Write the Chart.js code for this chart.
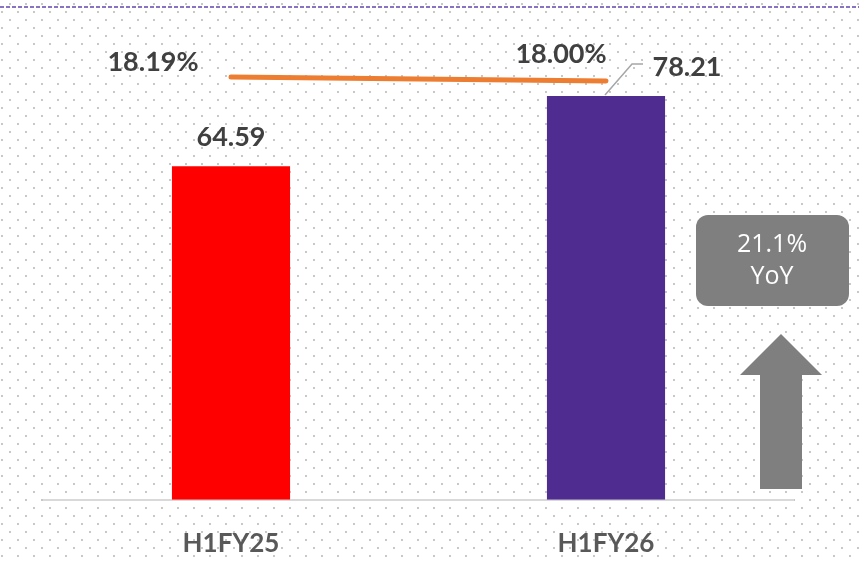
<!DOCTYPE html>
<html>
<head>
  <meta charset="UTF-8">
  <title>H1FY25 vs H1FY26</title>
  <script src="https://cdn.jsdelivr.net/npm/chart.js"></script>
  <style>
    body { margin: 0; background: #fff; }
  </style>
</head>
<body>
  <canvas id="halfYearChart" width="859" height="563"></canvas>

  <script>
    const periods = ['H1FY25', 'H1FY26'];
    const revenue = [64.59, 78.21];
    const margin = [18.19, 18.00];
    const barColors = ['#ff0000', '#4f2c8f'];
    const yoyText = ['21.1%', 'YoY'];

    // dotted backdrop + dashed rule on top
    const backdrop = {
      id: 'backdrop',
      beforeDraw(chart) {
        const ctx = chart.ctx;
        ctx.save();
        ctx.fillStyle = '#c8c8c8';
        for (let row = 0, y = 3; y < chart.height; row++, y += 8) {
          const start = row % 2 === 0 ? 9 : 1;
          for (let x = start; x < chart.width; x += 16) {
            ctx.fillRect(x, y, 2, 2);
          }
        }
        ctx.strokeStyle = '#8a72c2';
        ctx.lineWidth = 2;
        ctx.setLineDash([4, 2]);
        ctx.beginPath();
        ctx.moveTo(0, 7);
        ctx.lineTo(chart.width, 7);
        ctx.stroke();
        ctx.restore();
      }
    };

    // value labels for bars and line
    const valueLabels = {
      id: 'valueLabels',
      afterDatasetsDraw(chart) {
        const ctx = chart.ctx;
        const bars = chart.getDatasetMeta(0).data;
        const pts = chart.getDatasetMeta(1).data;
        ctx.save();
        ctx.font = 'bold 27px Lato';
        ctx.fillStyle = '#404040';
        ctx.textAlign = 'center';
        ctx.textBaseline = 'middle';

        ctx.fillText(revenue[0].toFixed(2), bars[0].x, bars[0].y - 29);

        // second bar label pulled out with a leader line
        ctx.strokeStyle = '#a6a6a6';
        ctx.lineWidth = 1.5;
        ctx.beginPath();
        ctx.moveTo(bars[1].x - 1, bars[1].y - 1);
        ctx.lineTo(bars[1].x + 26, bars[1].y - 32);
        ctx.lineTo(bars[1].x + 37, bars[1].y - 32);
        ctx.stroke();
        ctx.fillText(revenue[1].toFixed(2), bars[1].x + 81, bars[1].y - 29);

        ctx.fillText(margin[0].toFixed(2) + '%', pts[0].x - 78, pts[0].y - 15);
        ctx.fillText(margin[1].toFixed(2) + '%', pts[1].x - 45, pts[1].y - 27);
        ctx.restore();
      }
    };

    // YoY badge and up arrow on the right
    const yoyBadge = {
      id: 'yoyBadge',
      afterDraw(chart) {
        const ctx = chart.ctx;
        ctx.save();
        ctx.fillStyle = '#7f7f7f';
        ctx.beginPath();
        ctx.roundRect(696, 215, 153, 91, 12);
        ctx.fill();

        ctx.fillStyle = '#ffffff';
        ctx.font = '25px "Open Sans"';
        ctx.textAlign = 'center';
        ctx.textBaseline = 'middle';
        ctx.fillText(yoyText[0], 772, 245);
        ctx.fillText(yoyText[1], 772, 277);

        ctx.fillStyle = '#7f7f7f';
        ctx.beginPath();
        ctx.moveTo(781, 334);
        ctx.lineTo(822, 375);
        ctx.lineTo(802, 375);
        ctx.lineTo(802, 489);
        ctx.lineTo(760, 489);
        ctx.lineTo(760, 375);
        ctx.lineTo(740, 375);
        ctx.closePath();
        ctx.fill();
        ctx.restore();
      }
    };

    const ctx = document.getElementById('halfYearChart').getContext('2d');

    new Chart(ctx, {
      type: 'bar',
      data: {
        labels: periods,
        datasets: [
          {
            label: 'Revenue',
            data: revenue,
            backgroundColor: barColors,
            barPercentage: 0.315,
            categoryPercentage: 1,
            yAxisID: 'y',
            order: 2
          },
          {
            type: 'line',
            label: 'Margin',
            data: margin,
            borderColor: '#ed7d31',
            borderWidth: 5,
            borderCapStyle: 'round',
            pointRadius: 0,
            fill: false,
            yAxisID: 'y2',
            order: 1
          }
        ]
      },
      options: {
        responsive: false,
        animation: false,
        devicePixelRatio: 1,
        layout: {
          padding: { left: 43.5, right: 65.5, top: 35, bottom: -24 }
        },
        scales: {
          x: {
            grid: { display: false, drawTicks: false },
            border: { display: true, color: '#d9d9d9', width: 2 },
            ticks: {
              color: '#595959',
              font: { family: 'Lato', weight: 'bold', size: 26 },
              padding: 28
            }
          },
          y: {
            display: false,
            min: 0,
            max: 90
          },
          y2: {
            display: false,
            min: -1.857,
            max: 20.185
          }
        },
        plugins: {
          legend: { display: false },
          tooltip: { enabled: false }
        }
      },
      plugins: [backdrop, valueLabels, yoyBadge]
    });
  </script>
</body>
</html>
